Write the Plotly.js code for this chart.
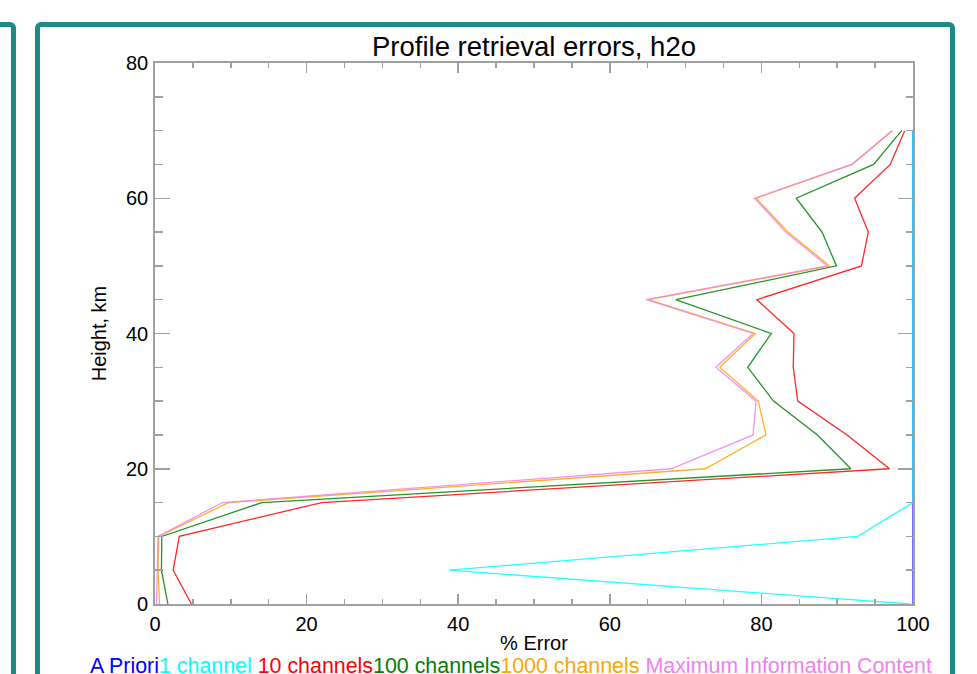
<!DOCTYPE html>
<html>
<head>
<meta charset="utf-8">
<script src="https://cdn.plot.ly/plotly-3.0.1.min.js"></script>
<style>
  html, body { margin: 0; padding: 0; background: #ffffff; overflow: hidden; }
  body { width: 977px; height: 674px; position: relative; }
  .frame { position: absolute; border: 5.5px solid #1d8a86; border-radius: 6px; box-sizing: border-box; }
  #leftFrame { left: -60px; top: 21.5px; width: 75.5px; height: 800px; }
  #mainFrame { left: 35px; top: 21.5px; width: 919.5px; height: 800px; }
  #chart { position: absolute; left: 0; top: 0; width: 977px; height: 674px; }
</style>
</head>
<body>
<div class="frame" id="leftFrame"></div>
<div class="frame" id="mainFrame"></div>
<div id="chart"></div>
<script>
// ---- data ----
const heights = [0, 5, 10, 15, 20, 25, 30, 35, 40, 45, 50, 55, 60, 65, 70];

const aPriori        = [100, 100, 100, 100, 100, 100, 100, 100, 100, 100, 100, 100, 100, 100, 100];
const oneChannel     = [99.6, 38.8, 92.7, 100, 100, 100, 100, 100, 100, 100, 100, 100, 100, 100, 100];
const tenChannels    = [4.8, 2.4, 3.2, 22.0, 96.9, 91.3, 84.8, 84.2, 84.3, 79.4, 93.2, 94.1, 92.3, 97.0, 98.9];
const hundredChannels= [1.7, 0.85, 0.9, 14.1, 91.8, 87.4, 81.6, 78.2, 81.3, 68.7, 89.9, 88.0, 84.6, 94.8, 98.5];
const thousandChannels=[0.6, 0.4, 0.5, 9.7, 72.6, 80.6, 79.6, 74.5, 79.2, 65.1, 89.0, 83.5, 79.3, 92.0, 97.3];
const maxInfoContent = [0.2, 0.3, 0.4, 8.9, 68.1, 78.9, 79.3, 74.0, 78.9, 64.8, 88.7, 83.2, 79.1, 91.9, 97.2];

const seriesNames  = ["A Priori", "1 channel ", "10 channels", "100 channels", "1000 channels ", "Maximum Information Content"];
const seriesColors = ["#0000ff", "#00ffff", "#ff0000", "#008000", "#ffa500", "#ee82ee"];
const seriesValues = [aPriori, oneChannel, tenChannels, hundredChannels, thousandChannels, maxInfoContent];

const xTickVals = [0, 20, 40, 60, 80, 100];
const yTickVals = [0, 20, 40, 60, 80];

// ---- traces ----
const traces = seriesValues.map((vals, i) => ({
  type: "scatter",
  mode: "lines",
  x: vals,
  y: heights,
  name: seriesNames[i].trim(),
  line: { color: seriesColors[i], width: 1.3 },
  opacity: 0.85,
  hoverinfo: "x+y+name",
  cliponaxis: true
}));

const legendText = seriesNames.map((n, i) =>
  '<span style="color:' + seriesColors[i] + '">' + n.replace(/ $/, "&nbsp;") + '</span>').join("");

const FONT = '"Liberation Sans", Arial, Helvetica, sans-serif';
const axisGrey = "#a0a0a0";

const layout = {
  width: 977,
  height: 674,
  paper_bgcolor: "rgba(0,0,0,0)",
  plot_bgcolor: "#ffffff",
  margin: { l: 155, r: 64, t: 63, b: 70, pad: 0 },
  showlegend: false,
  font: { family: FONT, size: 20, color: "#000000" },
  title: {
    text: "Profile retrieval errors, h2o",
    font: { family: FONT, size: 27.5, color: "#000000" },
    x: 0.5, xref: "paper", xanchor: "center",
    y: 0.931, yref: "container", yanchor: "middle"
  },
  xaxis: {
    range: [0, 100],
    tickvals: xTickVals,
    ticktext: xTickVals.map(String),
    ticks: "inside",
    ticklen: 10,
    tickwidth: 1.5,
    tickcolor: axisGrey,
    minor: { dtick: 5, ticks: "inside", ticklen: 5, tickwidth: 1.5, tickcolor: axisGrey, showgrid: false },
    showline: true, linecolor: axisGrey, linewidth: 1.8,
    mirror: "ticks",
    showgrid: false, zeroline: false,
    tickfont: { family: FONT, size: 20, color: "#000" },
    ticklabelstandoff: 1,
    title: { text: "% Error", font: { family: FONT, size: 20, color: "#000" }, standoff: 2.5 },
    automargin: false
  },
  yaxis: {
    range: [0, 80],
    tickvals: yTickVals,
    ticktext: yTickVals.map(String),
    ticks: "inside",
    ticklen: 15,
    tickwidth: 1.5,
    tickcolor: axisGrey,
    minor: { dtick: 5, ticks: "inside", ticklen: 7.5, tickwidth: 1.5, tickcolor: axisGrey, showgrid: false },
    showline: true, linecolor: axisGrey, linewidth: 1.8,
    mirror: "ticks",
    showgrid: false, zeroline: false,
    tickfont: { family: FONT, size: 20, color: "#000" },
    ticklabelstandoff: 1,
    title: { text: "Height, km", font: { family: FONT, size: 20, color: "#000" }, standoff: 14 },
    automargin: false
  },
  annotations: [{
    text: legendText,
    xref: "paper", yref: "paper",
    x: (88 - 155) / 758, xanchor: "left",
    y: (604 - 665.5) / 541, yanchor: "middle",
    showarrow: false,
    font: { family: FONT, size: 21.4 }
  }]
};

Plotly.newPlot("chart", traces, layout, { displayModeBar: false, staticPlot: true });
</script>
</body>
</html>
